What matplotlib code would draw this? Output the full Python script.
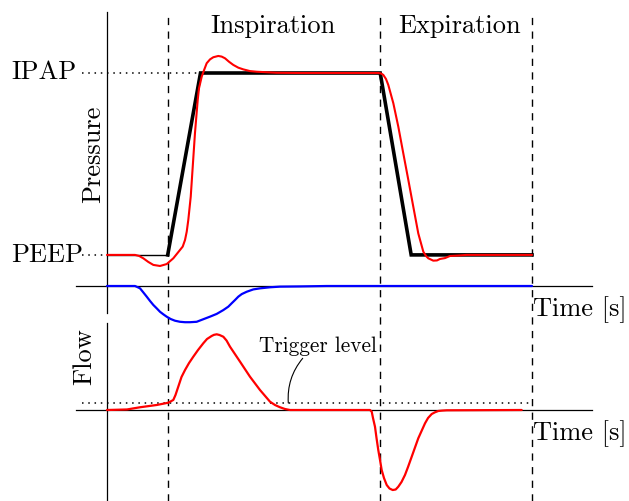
import matplotlib
matplotlib.use("Agg")
import matplotlib.pyplot as plt

plt.rcParams["font.family"] = ["cmr10", "DejaVu Serif"]
plt.rcParams["axes.formatter.use_mathtext"] = True

# levels (pressure normalised to IPAP, flow normalised to peak inspiratory flow)
PEEP = 0.146
IPAP = 1.0
TRIGGER = 0.092
T_TRIG, T_EXP, T_END = 1.0, 4.5, 7.0

# set pressure (black)
set_t_idle = [0.0, 1.0]
set_p_idle = [PEEP, PEEP]
set_t = [1.0, 1.54, 4.5, 5.01, 7.0]
set_p = [PEEP, IPAP, IPAP, PEEP, PEEP]

# measured pressure (red)
meas_t = [0.0, 0.461, 0.53, 0.598, 0.68, 0.763, 0.873, 0.983, 1.092, 1.202,
          1.247, 1.285, 1.313, 1.339, 1.379, 1.412, 1.449, 1.494, 1.515, 1.56,
          1.598, 1.642, 1.697, 1.751, 1.833, 1.889, 1.944, 2.009, 2.08, 2.163,
          2.245, 2.355, 2.466, 2.795, 3.179, 4.468, 4.513, 4.551, 4.595, 4.633,
          4.716, 4.798, 4.88, 4.963, 5.045, 5.127, 5.21, 5.254, 5.292, 5.374,
          5.435, 5.485, 5.567, 5.649, 5.781, 5.925, 7.0]
meas_p = [0.146, 0.146, 0.141, 0.130, 0.113, 0.099, 0.094, 0.103, 0.130, 0.169,
          0.185, 0.216, 0.255, 0.310, 0.419, 0.560, 0.718, 0.873, 0.928, 0.983,
          1.013, 1.046, 1.064, 1.074, 1.080, 1.077, 1.069, 1.053, 1.038, 1.025,
          1.017, 1.009, 1.006, 1.001, 1.0, 1.0, 0.998, 0.991, 0.972, 0.944,
          0.858, 0.748, 0.623, 0.498, 0.372, 0.247, 0.161, 0.141, 0.130, 0.119,
          0.120, 0.127, 0.131, 0.141, 0.143, 0.146, 0.146]

# patient effort (blue), drawn on the pressure time axis
effort_t = [0.0, 0.461, 0.5, 0.544, 0.598, 0.654, 0.708, 0.763, 0.819, 0.873,
            0.928, 0.983, 1.049, 1.12, 1.202, 1.285, 1.367, 1.477, 1.586, 1.696,
            1.807, 1.916, 1.998, 2.054, 2.108, 2.163, 2.219, 2.301, 2.41, 2.52,
            2.685, 2.849, 3.179, 3.619, 7.0]
effort_v = [0.0, 0.0, -0.005, -0.011, -0.030, -0.050, -0.070, -0.089, -0.105,
            -0.121, -0.133, -0.144, -0.155, -0.163, -0.168, -0.170, -0.170,
            -0.168, -0.156, -0.144, -0.131, -0.113, -0.097, -0.081, -0.066,
            -0.050, -0.038, -0.027, -0.016, -0.011, -0.006, -0.003, -0.002,
            0.0, 0.0]

# flow (red)
flow_t = [0.0, 0.329, 0.544, 0.819, 1.01, 1.092, 1.128, 1.174, 1.227, 1.285,
          1.351, 1.421, 1.499, 1.586, 1.647, 1.724, 1.762, 1.807, 1.853, 1.916,
          1.969, 2.026, 2.191, 2.355, 2.52, 2.685, 2.767, 2.849, 2.932, 3.014,
          4.332, 4.36, 4.381, 4.414, 4.439, 4.468, 4.497, 4.524, 4.562, 4.607,
          4.653, 4.706, 4.755, 4.798, 4.851, 4.908, 4.958, 5.019, 5.127, 5.238,
          5.288, 5.348, 5.402, 5.457, 5.518, 5.595, 6.83]
flow_q = [0.0, 0.007, 0.036, 0.066, 0.096, 0.132, 0.197, 0.307, 0.434, 0.526,
          0.618, 0.701, 0.789, 0.878, 0.934, 0.974, 0.989, 0.996, 0.987, 0.964,
          0.914, 0.833, 0.636, 0.438, 0.263, 0.109, 0.066, 0.036, 0.013, 0.0,
          0.0, -0.022, -0.105, -0.220, -0.368, -0.526, -0.658, -0.789, -0.895,
          -0.987, -1.033, -1.053, -1.046, -1.009, -0.947, -0.855, -0.750,
          -0.614, -0.372, -0.175, -0.105, -0.053, -0.030, -0.013, -0.008,
          -0.004, 0.0]

W, H = 629, 501
PX_PER_S = 60.714
X0 = 107
fig = plt.figure(figsize=(W / 100, H / 100), dpi=100)

xlim = (-X0 / PX_PER_S, (W - X0) / PX_PER_S)
# pressure: baseline at 286 px, 213 px per unit
axp = fig.add_axes([0, 0, 1, 1])
axp.set_xlim(*xlim)
axp.set_ylim((286 - H) / 213, 286 / 213)
# flow: baseline at 410 px, 76 px per unit
axf = fig.add_axes([0, 0, 1, 1])
axf.set_xlim(*xlim)
axf.set_ylim((410 - H) / 76, 410 / 76)
for ax in (axp, axf):
    ax.axis("off")
    ax.patch.set_visible(False)

dashed = dict(color="black", lw=1.0, linestyle=(0, (5.2, 4.6)))
dotted = dict(color="black", lw=1.1, linestyle=(0, (1.0, 3.1)))
smooth = dict(solid_joinstyle="round", solid_capstyle="round")
x_left = (76 - X0) / PX_PER_S
x_right = (592 - X0) / PX_PER_S
x_dot = (82 - X0) / PX_PER_S

# axes lines
axp.plot([0, 0], [-27 / 213, 274 / 213], color="black", lw=0.9)
axp.plot([x_left, x_right], [0, 0], color="black", lw=0.9)
axf.plot([0, 0], [(410 - H) / 76, 87 / 76], color="black", lw=0.9)
axf.plot([x_left, x_right], [0, 0], color="black", lw=0.9)

# phase boundaries
for t in (T_TRIG, T_EXP, T_END):
    axp.plot([t, t], [(286 - H) / 213, 274 / 213], **dashed)

# reference levels
axp.plot([x_dot, 1.54], [IPAP, IPAP], **dotted)
axp.plot([x_dot, 0], [PEEP, PEEP], **dotted)
axf.plot([x_dot, T_END], [TRIGGER, TRIGGER], **dotted)

# curves
axp.plot(set_t_idle, set_p_idle, color="black", lw=1.0)
axp.plot(set_t, set_p, color="black", lw=2.6, solid_joinstyle="miter")
axp.plot(meas_t, meas_p, color="red", lw=1.5, **smooth)
axp.plot(effort_t, effort_v, color="blue", lw=1.6, **smooth)
axf.plot(flow_t, flow_q, color="red", lw=1.6, **smooth)

big = 19
axp.text(T_TRIG + (272.5 - 167) / PX_PER_S, (286 - 33.3) / 213, "Inspiration",
         fontsize=big, ha="center", va="baseline")
axp.text((460 - X0) / PX_PER_S, (286 - 33.3) / 213, "Expiration",
         fontsize=big, ha="center", va="baseline")
axp.text((11.5 - X0) / PX_PER_S, (286 - 79.3) / 213, "IPAP",
         fontsize=big, ha="left", va="baseline")
axp.text((11.5 - X0) / PX_PER_S, (286 - 261.7) / 213, "PEEP",
         fontsize=big, ha="left", va="baseline")
axp.text((100 - X0) / PX_PER_S, (286 - 154) / 213, "Pressure", fontsize=big,
         rotation=90, rotation_mode="anchor", ha="center", va="baseline")
axp.text((533.3 - X0) / PX_PER_S, (286 - 316) / 213, "Time [s]",
         fontsize=big, ha="left", va="baseline")
axf.text((91.7 - X0) / PX_PER_S, (410 - 356.7) / 76, "Flow", fontsize=big,
         rotation=90, rotation_mode="anchor", ha="center", va="baseline")
axf.text((533.3 - X0) / PX_PER_S, (410 - 440) / 76, "Time [s]",
         fontsize=big, ha="left", va="baseline")

axf.text((317.5 - X0) / PX_PER_S, (410 - 351.7) / 76, "Trigger level",
         fontsize=15.3, ha="center", va="baseline")
axf.annotate("", xy=((288.3 - X0) / PX_PER_S, TRIGGER),
             xytext=((302.7 - X0) / PX_PER_S, (410 - 358.3) / 76),
             arrowprops=dict(arrowstyle="-", lw=0.8, color="black",
                             shrinkA=0, shrinkB=0,
                             connectionstyle="arc3,rad=0.2"))

fig.savefig("out.png", dpi=100)
